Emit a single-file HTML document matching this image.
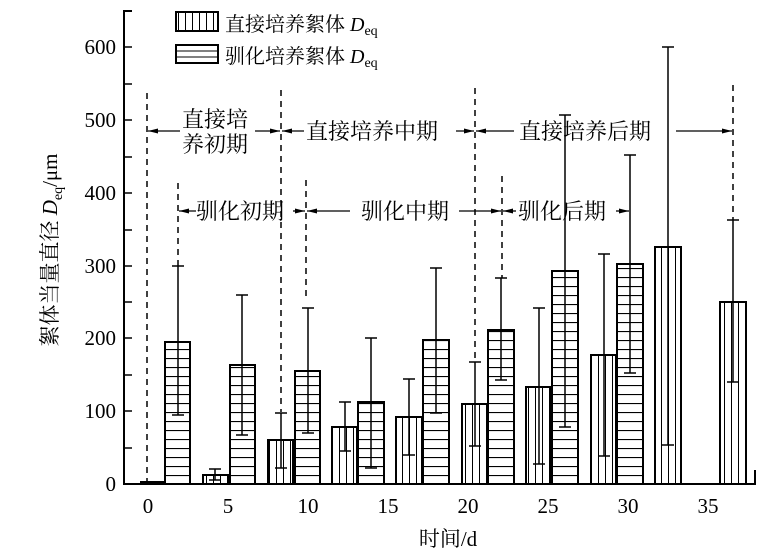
<!DOCTYPE html>
<html><head><meta charset="utf-8"><style>
html,body{margin:0;padding:0;background:#fff}
svg{display:block}
text{font-family:"Liberation Serif","Noto Serif CJK SC","Noto Sans CJK SC",serif;fill:#000}
</style></head><body>
<svg width="783" height="553" viewBox="0 0 783 553" xmlns="http://www.w3.org/2000/svg">
<defs>
<pattern id="pv" patternUnits="userSpaceOnUse" width="7" height="10"><line x1="3.5" y1="0" x2="3.5" y2="10" stroke="#000" stroke-width="1"/></pattern>
<pattern id="ph" patternUnits="userSpaceOnUse" width="10" height="9" y="484"><line x1="0" y1="0.5" x2="10" y2="0.5" stroke="#000" stroke-width="1.2"/></pattern>
<marker id="ar" markerWidth="10" markerHeight="6" refX="10" refY="3" orient="auto" markerUnits="userSpaceOnUse"><path d="M0,0.5 L10,3 L0,5.5 Z" fill="#000"/></marker>
</defs>
<g stroke="#000" stroke-width="2" fill="none">
<path d="M132,11 H124 V484 H755 V470"/>
</g>
<g stroke="#000" stroke-width="1.5">
<line x1="124" y1="47" x2="132" y2="47"/><line x1="124" y1="84" x2="132" y2="84"/>
<line x1="124" y1="120" x2="132" y2="120"/><line x1="124" y1="157" x2="132" y2="157"/>
<line x1="124" y1="193" x2="132" y2="193"/><line x1="124" y1="230" x2="132" y2="230"/>
<line x1="124" y1="266" x2="132" y2="266"/><line x1="124" y1="302" x2="132" y2="302"/>
<line x1="124" y1="338" x2="132" y2="338"/><line x1="124" y1="375" x2="132" y2="375"/>
<line x1="124" y1="411" x2="132" y2="411"/><line x1="124" y1="448" x2="132" y2="448"/>
</g>
<g font-size="21" text-anchor="end">
<text x="116" y="54">600</text><text x="116" y="127">500</text><text x="116" y="200">400</text>
<text x="116" y="273">300</text><text x="116" y="345">200</text><text x="116" y="418">100</text><text x="116" y="491">0</text>
</g>
<g font-size="21" text-anchor="middle">
<text x="148" y="513">0</text><text x="228" y="513">5</text><text x="308" y="513">10</text><text x="388" y="513">15</text>
<text x="468" y="513">20</text><text x="548" y="513">25</text><text x="628" y="513">30</text><text x="708" y="513">35</text>
</g>
<text x="448" y="546" font-size="21" text-anchor="middle">时间/d</text>
<text transform="translate(57,250) rotate(-90)" font-size="21" text-anchor="middle">絮体当量直径 <tspan font-style="italic">D</tspan><tspan font-size="14" dy="5">eq</tspan><tspan dy="-5">/μm</tspan></text>
<rect x="176" y="12" width="42" height="19" fill="url(#pv)" stroke="#000" stroke-width="2"/>
<rect x="176" y="45" width="42" height="18" fill="#fff" stroke="#000" stroke-width="2"/>
<line x1="176" y1="51" x2="218" y2="51" stroke="#000"/><line x1="176" y1="57" x2="218" y2="57" stroke="#000"/>
<text x="225" y="31" font-size="20">直接培养絮体 <tspan font-style="italic">D</tspan><tspan font-size="14" dy="4">eq</tspan></text>
<text x="225" y="63" font-size="20">驯化培养絮体 <tspan font-style="italic">D</tspan><tspan font-size="14" dy="4">eq</tspan></text>
<g stroke="#000" stroke-width="1.5" stroke-dasharray="6,5">
<line x1="147" y1="93" x2="147" y2="484"/>
<line x1="281" y1="90" x2="281" y2="412"/>
<line x1="306" y1="180" x2="306" y2="300"/>
<line x1="178" y1="183" x2="178" y2="266"/>
<line x1="475" y1="88" x2="475" y2="362"/>
<line x1="502" y1="176" x2="502" y2="278"/>
<line x1="733" y1="85" x2="733" y2="220"/>
</g>
<g stroke="#000" stroke-width="2">
<rect x="141" y="482" width="23" height="2" fill="#fff"/>
<rect x="165" y="342" width="25" height="142" fill="url(#ph)"/>
<rect x="203" y="475" width="25" height="9" fill="url(#pv)"/>
<rect x="230" y="365" width="25" height="119" fill="url(#ph)"/>
<rect x="268" y="440" width="25" height="44" fill="url(#pv)"/>
<rect x="295" y="371" width="25" height="113" fill="url(#ph)"/>
<rect x="332" y="427" width="25" height="57" fill="url(#pv)"/>
<rect x="358" y="402" width="26" height="82" fill="url(#ph)"/>
<rect x="396" y="417" width="26" height="67" fill="url(#pv)"/>
<rect x="423" y="340" width="26" height="144" fill="url(#ph)"/>
<rect x="462" y="404" width="25" height="80" fill="url(#pv)"/>
<rect x="488" y="330" width="26" height="154" fill="url(#ph)"/>
<rect x="526" y="387" width="25" height="97" fill="url(#pv)"/>
<rect x="552" y="271" width="26" height="213" fill="url(#ph)"/>
<rect x="591" y="355" width="25" height="129" fill="url(#pv)"/>
<rect x="617" y="264" width="26" height="220" fill="url(#ph)"/>
<rect x="655" y="247" width="26" height="237" fill="url(#pv)"/>
<rect x="720" y="302" width="26" height="182" fill="url(#pv)"/>
</g>
<g stroke="#000" stroke-width="1.5">
<path d="M178,415V266M172,266H184M172,415H184"/>
<path d="M215,480V469M209,469H221M209,480H221"/>
<path d="M242,435V295M236,295H248M236,435H248"/>
<path d="M281,468V413M275,413H287M275,468H287"/>
<path d="M308,433V308M302,308H314M302,433H314"/>
<path d="M345,451V402M339,402H351M339,451H351"/>
<path d="M371,468V338M365,338H377M365,468H377"/>
<path d="M409,455V379M403,379H415M403,455H415"/>
<path d="M436,413V268M430,268H442M430,413H442"/>
<path d="M475,446V362M469,362H481M469,446H481"/>
<path d="M501,380V278M495,278H507M495,380H507"/>
<path d="M539,464V308M533,308H545M533,464H545"/>
<path d="M565,427V115M559,115H571M559,427H571"/>
<path d="M604,456V254M598,254H610M598,456H610"/>
<path d="M630,373V155M624,155H636M624,373H636"/>
<path d="M668,445V47M662,47H674M662,445H674"/>
<path d="M733,382V220M727,220H739M727,382H739"/>
</g>
<g stroke="#000" stroke-width="1.3" fill="none" marker-end="url(#ar)">
<line x1="180" y1="131" x2="148" y2="131"/>
<line x1="255" y1="131" x2="280" y2="131"/>
<line x1="304" y1="131" x2="282" y2="131"/>
<line x1="456" y1="131" x2="474" y2="131"/>
<line x1="514" y1="131" x2="476" y2="131"/>
<line x1="676" y1="131" x2="732" y2="131"/>
<line x1="196" y1="211" x2="179" y2="211"/>
<line x1="293" y1="211" x2="305" y2="211"/>
<line x1="350" y1="211" x2="307" y2="211"/>
<line x1="459" y1="211" x2="501" y2="211"/>
<line x1="516" y1="211" x2="503" y2="211"/>
<line x1="616" y1="211" x2="629" y2="211"/>
</g>
<g font-size="22" font-family="'Noto Serif CJK SC','Noto Sans CJK SC',serif">
<text x="182" y="127">直接培</text><text x="182" y="152">养初期</text>
<text x="306" y="139">直接培养中期</text>
<text x="519" y="139">直接培养后期</text>
<text x="196" y="219">驯化初期</text>
<text x="361" y="219">驯化中期</text>
<text x="518" y="219">驯化后期</text>
</g>
</svg>
</body></html>
